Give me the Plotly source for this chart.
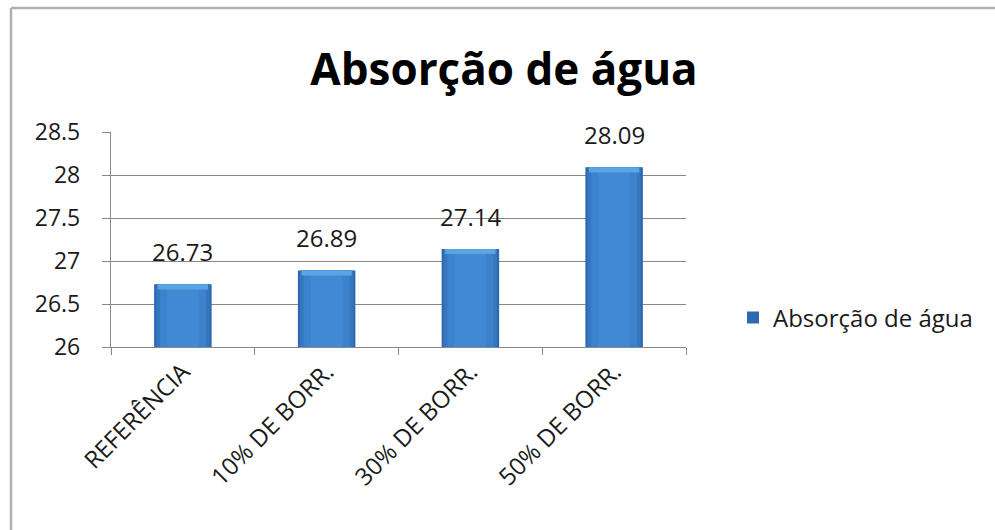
import plotly.graph_objects as go

categories = ["REFERÊNCIA", "10% DE BORR.", "30% DE BORR.", "50% DE BORR."]
values = [26.73, 26.89, 27.14, 28.09]
series_name = "Absorção de água"
title_text = "Absorção de água"
y_ticks = [26, 26.5, 27, 27.5, 28, 28.5]
y_tick_labels = ["26", "26.5", "27", "27.5", "28", "28.5"]

W, H = 995, 530
L, R, T, B = 111, 686, 132, 347  # plot area pixels

def px(x):
    return (x - L) / (R - L)

def py(y):
    return (B - y) / (B - T)

fig = go.Figure()

# layered bars to imitate the shaded Excel look
layers = [
    (0.40, "#2D69AE", True),
    (0.37, "#3577C0", False),
    (0.32, "#3C82CC", False),
    (0.22, "#4189D2", False),
]
for i, (w, c, main) in enumerate(layers):
    fig.add_trace(go.Bar(
        x=categories, y=values, width=w, name=series_name,
        marker=dict(color=c, line=dict(width=0)),
        showlegend=main, hoverinfo="skip" if not main else None,
    ))

# top bevel highlight
fig.add_trace(go.Bar(
    x=categories, y=[0.06] * len(values), base=[v - 0.06 for v in values],
    width=0.35, marker=dict(color="#5AA4E4", line=dict(width=0)),
    showlegend=False, hoverinfo="skip",
))

# data labels
for c, v in zip(categories, values):
    fig.add_annotation(x=c, y=v, text=f"{v:.2f}", showarrow=False,
                       yanchor="bottom", yshift=14,
                       font=dict(family="Open Sans", size=24, color="#1a1a1a"))

fig.update_layout(
    width=W, height=H,
    margin=dict(l=L, r=W - R, t=T, b=H - B),
    paper_bgcolor="white", plot_bgcolor="white",
    barmode="overlay",
    font=dict(family="Open Sans", color="#1a1a1a"),
    title=dict(text="<b>" + title_text + "</b>", x=504 / W, xref="container",
               xanchor="center", y=1 - 70 / H, yanchor="middle",
               font=dict(family="Open Sans", size=44, color="#000")),
    legend=dict(x=px(733), y=py(318), xanchor="left", yanchor="middle",
                font=dict(family="Open Sans", size=24, color="#1a1a1a"),
                bgcolor="rgba(0,0,0,0)", itemwidth=30),
    showlegend=True,
)

fig.update_yaxes(
    range=[26, 28.5], tickvals=y_ticks, ticktext=y_tick_labels,
    showgrid=True, gridcolor="#888888", gridwidth=1.3,
    showline=True, linecolor="#888888", linewidth=1.3,
    ticks="outside", ticklen=8, tickcolor="#888888", tickwidth=1.3,
    ticklabelstandoff=17,
    tickfont=dict(family="Open Sans", size=23, color="#1a1a1a"),
    zeroline=False, fixedrange=True,
)
fig.update_xaxes(
    type="category", tickangle=-45,
    showline=True, linecolor="#888888", linewidth=1.3,
    ticks="outside", tickson="boundaries", ticklen=7,
    tickcolor="#888888", tickwidth=1.3,
    tickfont=dict(family="Open Sans", size=24, color="#1a1a1a"),
    showgrid=False, fixedrange=True,
)

# chart frame (only top and left edges are visible in the reference)
frame = dict(color="#b0b0b0", width=2.5)
fig.add_shape(type="line", xref="paper", yref="paper",
              x0=px(11), x1=px(1020), y0=py(8), y1=py(8), line=frame)
fig.add_shape(type="line", xref="paper", yref="paper",
              x0=px(11), x1=px(11), y0=py(8), y1=py(560), line=frame)

fig.write_html("out.html")
